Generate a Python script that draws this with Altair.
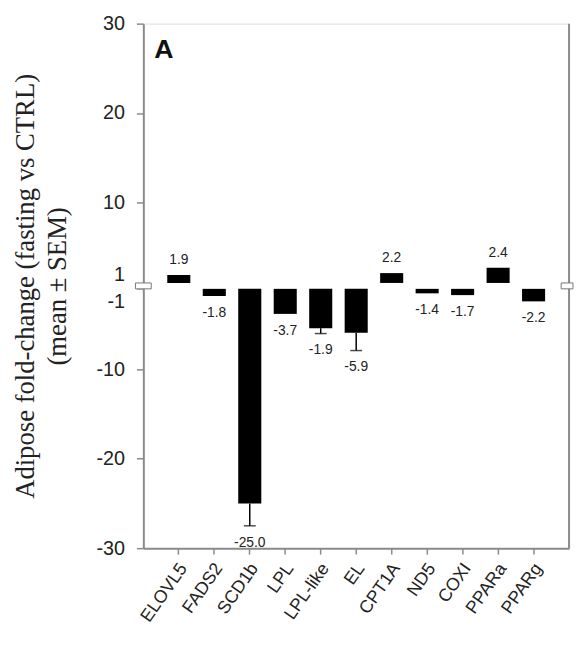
import altair as alt
import pandas as pd

# ---- data ----
genes = ["ELOVL5", "FADS2", "SCD1b", "LPL", "LPL-like", "EL",
         "CPT1A", "ND5", "COXI", "PPARa", "PPARg"]
fold = [1.9, -1.8, -25.0, -3.8, -5.4, -5.9, 2.1, -1.5, -1.7, 2.7, -2.4]
sem = [0.0, 0.0, 2.5, 0.0, 0.6, 2.0, 0.0, 0.0, 0.0, 0.0, 0.0]
value_labels = ["1.9", "-1.8", "-25.0", "-3.7", "-1.9", "-5.9",
                "2.2", "-1.4", "-1.7", "2.4", "-2.2"]
y_ticks = [30, 20, 10, 1, -1, -10, -20, -30]
panel_letter = "A"
y_title = ["Adipose fold-change (fasting vs CTRL)", "(mean \u00b1 SEM)"]

# half-width of the axis break (display units); values in (-1, 1) are cut out
GAP = 0.33

df = pd.DataFrame({"gene": genes, "fold": fold, "sem": sem, "lab": value_labels})

def disp(v):
    return v - 1 + GAP if v > 0 else v + 1 - GAP

tick_pos = [disp(t) for t in y_ticks]
dmax = disp(max(y_ticks))
dmin = disp(min(y_ticks))

W, H = 431, 531
AXC = "#8a8a8a"

base = alt.Chart(df).transform_calculate(
    d=f"datum.fold > 0 ? datum.fold - 1 + {GAP} : datum.fold + 1 - {GAP}",
    b=f"datum.fold > 0 ? {GAP} : -{GAP}",
    e="datum.fold > 0 ? datum.fold + datum.sem : datum.fold - datum.sem",
).transform_calculate(
    de=f"datum.e > 0 ? datum.e - 1 + {GAP} : datum.e + 1 - {GAP}"
)

xenc = alt.X(
    "gene:N", sort=genes,
    scale=alt.Scale(paddingInner=0.35, paddingOuter=0.675),
    axis=alt.Axis(title=None, labelAngle=305, labelAlign="right",
                  labelBaseline="middle", labelFontSize=18,
                  labelFont="Liberation Sans", labelColor="#222",
                  labelPadding=11, labelOffset=5, tickSize=6, tickWidth=1.5,
                  tickColor=AXC, domainColor=AXC, domainWidth=2),
)

label_expr = (f"datum.value > 0 ? '' + round(datum.value + 1 - {GAP}) "
              f": '' + round(datum.value - 1 + {GAP})")

yscale = alt.Scale(domain=[dmin, dmax], nice=False, zero=False)
yaxis = alt.Axis(
    values=tick_pos, labelExpr=label_expr, title=y_title,
    titleFont="Liberation Serif", titleFontSize=27, titleFontWeight="normal",
    titleColor="#222", titleLineHeight=32, titlePadding=25,
    labelFont="Liberation Sans", labelFontSize=20, labelColor="#222",
    labelPadding=12, labelOverlap=False, tickSize=7, tickWidth=1.5,
    tickColor=AXC, domainColor=AXC, domainWidth=2, grid=False,
    labelOffset={"condition": [
        {"test": "datum.value > 0 && datum.value < 1", "value": -8},
        {"test": "datum.value < 0 && datum.value > -1", "value": 13},
    ], "value": 0},
)

bars = base.mark_bar(color="black").encode(
    x=xenc,
    y=alt.Y("d:Q", scale=yscale, axis=yaxis),
    y2="b:Q",
)

err_rule = base.transform_filter("datum.sem > 0").mark_rule(
    color="black", strokeWidth=1.5).encode(x=alt.X("gene:N", sort=genes), y="d:Q", y2="de:Q")
err_cap = base.transform_filter("datum.sem > 0").mark_tick(
    color="black", size=12, thickness=1.5).encode(x=alt.X("gene:N", sort=genes), y="de:Q")

txt_pos = base.transform_filter("datum.fold > 0").mark_text(
    baseline="bottom", dy=-8, fontSize=14, font="Liberation Sans", color="#222"
).encode(x=alt.X("gene:N", sort=genes), y="de:Q", text="lab:N")
txt_neg = base.transform_filter("datum.fold < 0").mark_text(
    baseline="top", dy=10, fontSize=14, font="Liberation Sans", color="#222"
).encode(x=alt.X("gene:N", sort=genes), y="de:Q", text="lab:N")

# right frame line
frame = alt.Chart(pd.DataFrame({"k": [0]})).mark_rule(
    color=AXC, strokeWidth=2).encode(
    x=alt.value(W), y=alt.value(0), y2=alt.value(H))

# axis-break symbols on the left axis and right frame
brk_df = pd.DataFrame({"lo": [-GAP], "hi": [GAP]})
brk_left = alt.Chart(brk_df).mark_rect(
    fill="white", stroke="#777", strokeWidth=1).encode(
    x=alt.value(-8), x2=alt.value(8), y="hi:Q", y2="lo:Q")
brk_right = alt.Chart(brk_df).mark_rect(
    fill="white", stroke="#777", strokeWidth=1).encode(
    x=alt.value(W - 8), x2=alt.value(W + 4), y="hi:Q", y2="lo:Q")

letter = alt.Chart(pd.DataFrame({"t": [panel_letter]})).mark_text(
    fontSize=27, fontWeight="bold", font="Liberation Sans", color="#111",
    align="left", baseline="middle").encode(
    x=alt.value(11), y=alt.value(27), text="t:N")

chart = alt.layer(
    bars, err_rule, err_cap, txt_pos, txt_neg, frame, brk_left, brk_right, letter
).properties(
    width=W, height=H,
    padding={"left": 4, "top": 2, "right": 0, "bottom": 0},
).configure_view(stroke=None).configure(background="white")

chart.save("out.html", embed_options={"renderer": "svg", "actions": False})
